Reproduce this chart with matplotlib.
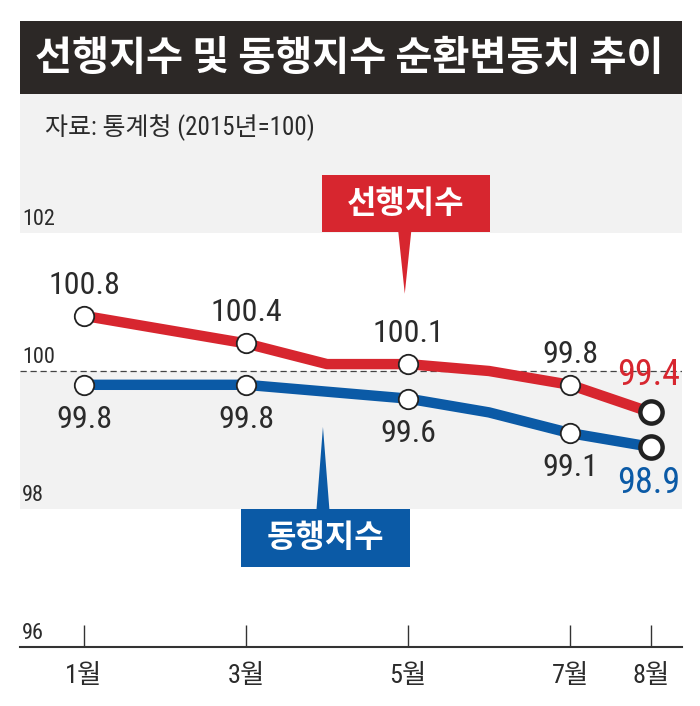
import matplotlib
matplotlib.use("Agg")
import matplotlib.pyplot as plt
from matplotlib import font_manager as fm
from matplotlib.patches import Rectangle, Polygon

# ---------------- data ----------------
months = [1, 2, 3, 4, 5, 6, 7, 8]
month_labels = ["1월", "3월", "5월", "7월", "8월"]
label_months = [1, 3, 5, 7, 8]
leading = [100.8, 100.6, 100.4, 100.1, 100.1, 100.0, 99.8, 99.4]
coincident = [99.8, 99.8, 99.8, 99.7, 99.6, 99.4, 99.1, 98.9]
yticks = [96, 98, 100, 102]
title = "선행지수 및 동행지수 순환변동치 추이"
subtitle = "자료: 통계청 (2015년=100)"
lead_name = "선행지수"
coin_name = "동행지수"

RED = "#d7262f"
BLUE = "#0b5aa6"
DARK = "#2c2826"
GREY = "#f2f2f2"
TXT = "#2b2b2b"

avail = {f.name for f in fm.fontManager.ttflist}
def pick(*names):
    return [n for n in names if n in avail] or ["DejaVu Sans"]

NUM = pick("Liberation Sans Narrow", "Roboto Condensed", "DejaVu Sans Condensed", "Liberation Sans")
KR = ["Noto Sans CJK KR"]
MIX = NUM[:1] + KR

plt.rcParams["font.family"] = KR + ["DejaVu Sans"]

W, H = 700, 706
fig = plt.figure(figsize=(7.0, 7.06), dpi=100)

def fx(px):
    return px / W
def fy(py):
    return 1 - py / H

left_px, right_px = 20, 682
top_px, bot_px = 94, 647
ax = fig.add_axes([fx(left_px), fy(bot_px), fx(right_px - left_px), (bot_px - top_px) / H])

px_per_month = 81.0
x0 = 1 - (84 - left_px) / px_per_month
x1 = 1 + (right_px - 84) / px_per_month
px_per_unit = 69.0
ytop = 96 + (bot_px - top_px) / px_per_unit
ax.set_xlim(x0, x1)
ax.set_ylim(96, ytop)

ax.axhspan(98, 100, color=GREY, zorder=0, lw=0)
ax.axhspan(102, ytop, color=GREY, zorder=0, lw=0)
ax.axhline(100, color="#444444", lw=0.9, ls=(0, (5, 3)), zorder=1)

for s in ["top", "right", "left"]:
    ax.spines[s].set_visible(False)
ax.spines["bottom"].set_color("#333333")
ax.spines["bottom"].set_linewidth(1.5)
ax.set_yticks([])
ax.set_xticks(label_months)
ax.set_xticklabels(month_labels, family=MIX, fontsize=19, color=TXT)
ax.tick_params(axis="x", direction="in", length=16, width=1.0, color="#333333", pad=12)

for v in yticks:
    ax.text(0.003, v + 0.05, str(v), transform=ax.get_yaxis_transform(),
            ha="left", va="bottom", fontsize=16, family=NUM, color=TXT)

small_idx = [0, 2, 4, 6]
for vals, col in [(leading, RED), (coincident, BLUE)]:
    ax.plot(months, vals, color=col, lw=7.5, solid_joinstyle="round", zorder=3)
    ax.plot([months[i] for i in small_idx], [vals[i] for i in small_idx], ls="none",
            marker="o", ms=14, mfc="white", mec="#222222", mew=1.3, zorder=4)
    ax.plot(months[-1], vals[-1], ls="none", marker="o", ms=16, mfc="white",
            mec="#222222", mew=3.2, zorder=4)

for i in small_idx:
    ax.annotate(f"{leading[i]:.1f}", (months[i], leading[i]), xytext=(0, 22),
                textcoords="offset points", ha="center", va="center",
                fontsize=23, family=NUM, color=TXT, zorder=5)
    ax.annotate(f"{coincident[i]:.1f}", (months[i], coincident[i]), xytext=(0, -25),
                textcoords="offset points", ha="center", va="center",
                fontsize=23, family=NUM, color=TXT, zorder=5)

ax.annotate(f"{leading[-1]:.1f}", (months[-1], leading[-1]), xytext=(0.997, 27),
            textcoords=("axes fraction", "offset points"), ha="right", va="center",
            fontsize=26, family=NUM, color=RED, zorder=5)
ax.annotate(f"{coincident[-1]:.1f}", (months[-1], coincident[-1]), xytext=(0.997, -26),
            textcoords=("axes fraction", "offset points"), ha="right", va="center",
            fontsize=26, family=NUM, color=BLUE, zorder=5)

def callout(xl, xr, yb, yt, tipx, tipy, basey, col, text):
    ax.add_patch(Rectangle((xl, yb), xr - xl, yt - yb, color=col, lw=0, zorder=6))
    hw = 0.08
    ax.add_patch(Polygon([(tipx - hw, basey), (tipx + hw, basey), (tipx, tipy)],
                         closed=True, color=col, lw=0, zorder=6))
    ax.text((xl + xr) / 2, (yb + yt) / 2, text, ha="center", va="center",
            fontsize=23, weight="bold", color="white", family=KR, zorder=7)

callout(3.94, 6.01, 102.01, 102.84, 4.96, 101.12, 102.02, RED, lead_name)
callout(2.94, 5.02, 97.16, 98.0, 3.95, 99.19, 97.99, BLUE, coin_name)

fig.patches.append(Rectangle((fx(20), fy(94)), fx(682 - 20), (94 - 21) / H,
                             transform=fig.transFigure, color=DARK, lw=0, zorder=0))
fig.text(fx(349), fy(58), title, ha="center", va="center", color="white",
         fontsize=29, weight="bold", family=KR)
fig.text(fx(45), fy(128), subtitle, ha="left", va="center", color=TXT,
         fontsize=18, family=MIX)

fig.savefig("out.png", dpi=100)
